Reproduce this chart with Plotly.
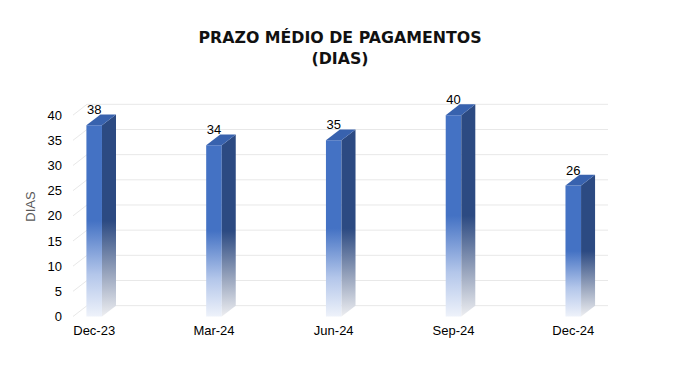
import plotly.graph_objects as go

# ---- data ----
categories = ["Dec-23", "Mar-24", "Jun-24", "Sep-24", "Dec-24"]
values = [38, 34, 35, 40, 26]
y_ticks = [0, 5, 10, 15, 20, 25, 30, 35, 40]

title_text = "PRAZO MÉDIO DE PAGAMENTOS<br>(DIAS)"
y_title = "DIAS"

# ---- 3D geometry (in axis units) ----
HALF_W = 0.065      # half width of front face (x units)
DEPTH_X = 0.117     # depth offset in x
DEPTH_Y = 2.15      # depth offset in y (value units)
X_RANGE = [-0.177, 4.29]
Y_RANGE = [-0.3, 44.0]

FRONT_SCALE = [[0, "#EEF2FA"], [0.22, "#B3C6EA"], [0.5, "#4472C4"], [1, "#4472C4"]]
SIDE_SCALE = [[0, "#EDEEF1"], [0.22, "#9AA6BE"], [0.5, "#2C4A82"], [1, "#2C4A82"]]
TOP_COLOR = "#3862AE"
GRID_COLOR = "#E8E8E8"

xs = list(range(len(categories)))

fig = go.Figure()

# gridlines with side-wall diagonal
gx, gy = [], []
for t in y_ticks:
    gx += [X_RANGE[0], X_RANGE[0] + DEPTH_X, X_RANGE[1], None]
    gy += [t, t + DEPTH_Y, t + DEPTH_Y, None]
fig.add_trace(go.Scatter(x=gx, y=gy, mode="lines",
                         line=dict(color=GRID_COLOR, width=1),
                         hoverinfo="skip", showlegend=False))

for x, v in zip(xs, values):
    xl, xr = x - HALF_W, x + HALF_W
    # front face
    fig.add_trace(go.Scatter(
        x=[xl, xr, xr, xl, xl], y=[0, 0, v, v, 0],
        mode="lines", fill="toself", line=dict(width=0),
        fillgradient=dict(type="vertical", colorscale=FRONT_SCALE, start=0, stop=v),
        hoverinfo="skip", showlegend=False))
    # side face
    fig.add_trace(go.Scatter(
        x=[xr, xr + DEPTH_X, xr + DEPTH_X, xr, xr],
        y=[0, DEPTH_Y, v + DEPTH_Y, v, 0],
        mode="lines", fill="toself", line=dict(width=0),
        fillgradient=dict(type="vertical", colorscale=SIDE_SCALE, start=0, stop=v),
        hoverinfo="skip", showlegend=False))
    # top face
    fig.add_trace(go.Scatter(
        x=[xl, xr, xr + DEPTH_X, xl + DEPTH_X, xl],
        y=[v, v, v + DEPTH_Y, v + DEPTH_Y, v],
        mode="lines", fill="toself", fillcolor=TOP_COLOR, line=dict(width=0),
        hoverinfo="skip", showlegend=False))

# data labels
fig.add_trace(go.Scatter(
    x=xs, y=[v + DEPTH_Y - 0.6 for v in values], mode="text",
    text=[str(v) for v in values], textposition="top center",
    textfont=dict(family="Liberation Sans", size=13, color="#000000"),
    cliponaxis=False, hoverinfo="skip", showlegend=False))

fig.update_layout(
    width=680, height=391,
    margin=dict(l=73, r=72, t=95, b=73),
    paper_bgcolor="white", plot_bgcolor="white",
    title=dict(text=title_text, x=0.5, xanchor="center",
               y=1 - 43 / 391, yanchor="top", yref="container",
               font=dict(family="DejaVu Sans", size=15.8, color="#111111", weight="bold")),
    xaxis=dict(range=X_RANGE, tickvals=xs, ticktext=categories,
               showgrid=False, zeroline=False, showline=False,
               ticks="", ticklabelstandoff=3,
               tickfont=dict(family="Liberation Sans", size=13, color="#000000")),
    yaxis=dict(range=Y_RANGE, tickvals=y_ticks, showgrid=False, zeroline=False,
               showline=False, ticks="", ticklabelstandoff=10,
               tickfont=dict(family="Liberation Sans", size=13, color="#000000"),
               title=dict(text=y_title, standoff=8,
                          font=dict(family="Liberation Sans", size=13, color="#595959"))),
)

fig.write_html("out.html", config={"displayModeBar": False},
               post_script="document.body.style.margin='0';")
